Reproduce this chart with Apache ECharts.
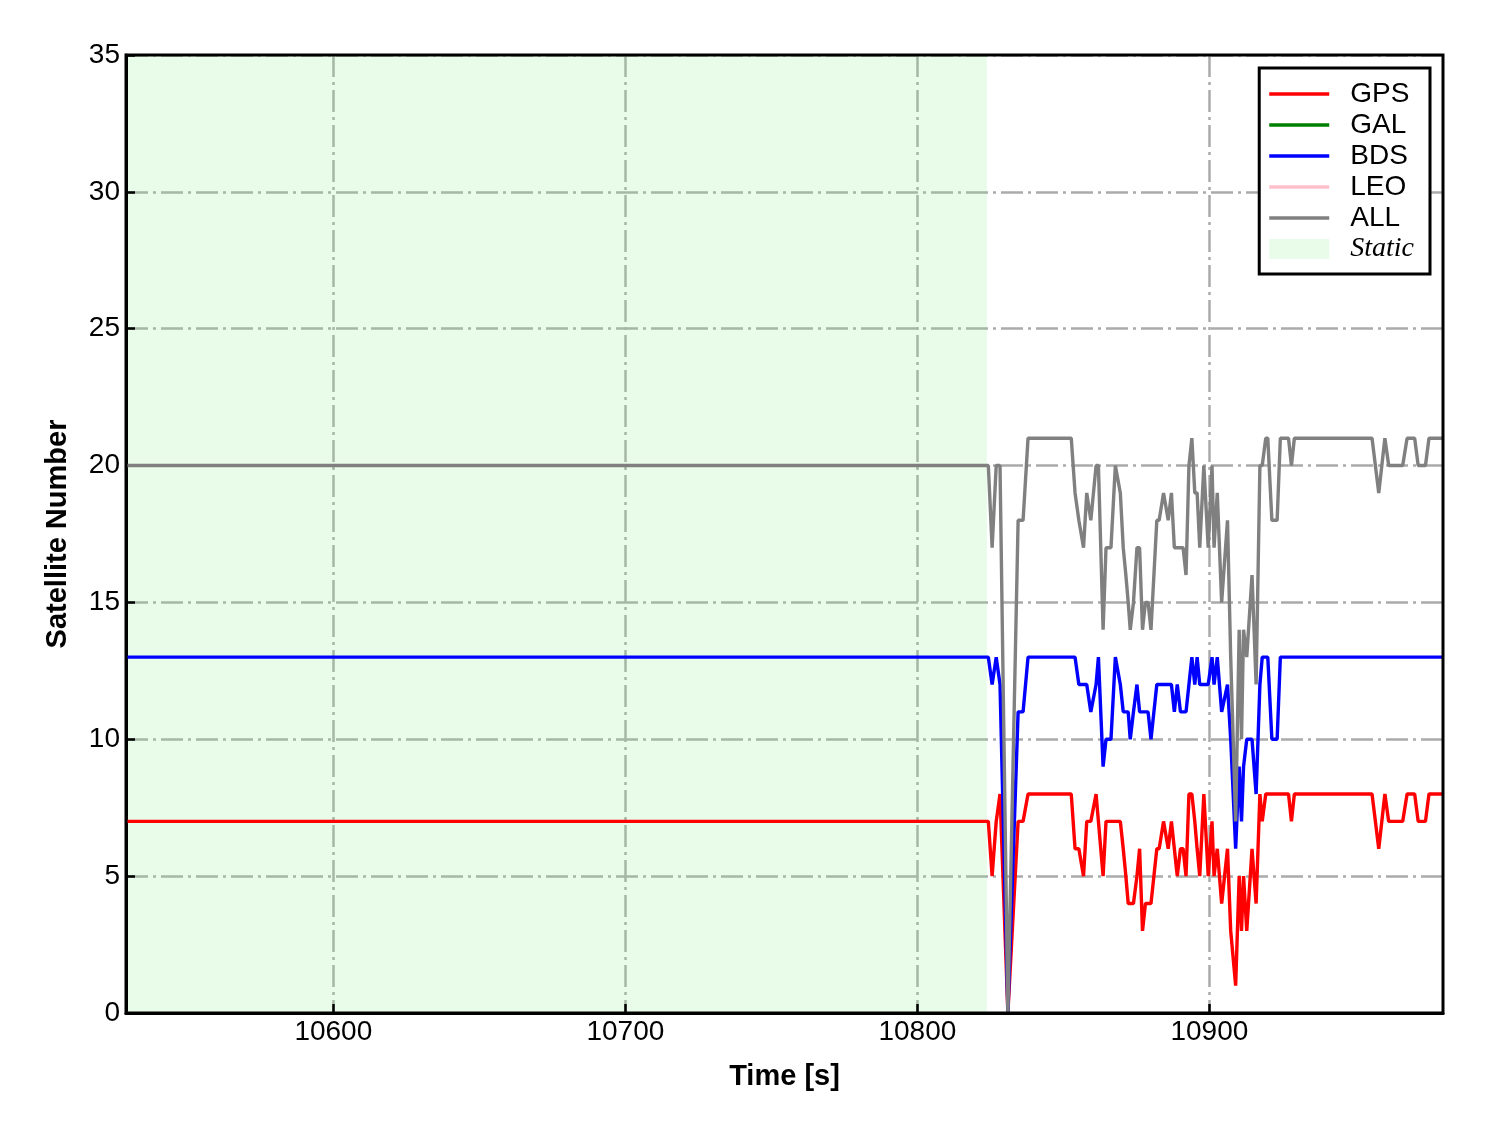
<!DOCTYPE html>
<html>
<head>
<meta charset="utf-8">
<script src="https://cdn.jsdelivr.net/npm/echarts@6/dist/echarts.min.js"></script>
<style>
html,body{margin:0;padding:0;background:#fff;}
#chart{width:1488px;height:1133px;}
</style>
</head>
<body>
<div id="chart"></div>
<script>
// ---- data ----
const epochTime = [
  10529, 10824.3, 10825.6, 10827.0, 10828.3, 10831.0, 10834.5, 10836.2, 10837.9, 10852.7,
  10854.0, 10855.3, 10856.9, 10858.0, 10859.4, 10861.2, 10862.0, 10863.6, 10864.6, 10866.3,
  10867.8, 10868.3, 10869.5, 10870.5, 10871.4, 10872.2, 10872.9, 10874.0, 10875.2, 10876.1,
  10877.1, 10878.1, 10879.0, 10880.0, 10881.0, 10882.0, 10882.8, 10884.3, 10884.9, 10885.9,
  10887.0, 10888.0, 10889.0, 10890.1, 10891.0, 10892.0, 10893.0, 10894.0, 10895.0, 10895.8,
  10896.7, 10898.1, 10899.6, 10900.9, 10901.6, 10902.7, 10904.2, 10906.2, 10907.3, 10909.0,
  10910.2, 10911.0, 10911.7, 10912.8, 10914.6, 10916.0, 10917.3, 10918.1, 10919.3, 10920.0,
  10921.4, 10923.2, 10924.3, 10927.1, 10928.1, 10929.1, 10955.7, 10958.0, 10960.1, 10961.4,
  10966.2, 10967.7, 10970.3, 10971.5, 10974.0, 10975.2, 10980.0
];
const gpsCount = [
  7, 7, 5, 7, 8, 0, 7, 7, 8, 8,
  6, 6, 5, 7, 7, 8, 7, 5, 7, 7,
  7, 7, 7, 6, 5, 4, 4, 4, 5, 6,
  3, 4, 4, 4, 5, 6, 6, 7, 7, 6,
  7, 6, 5, 6, 6, 5, 8, 8, 7, 6,
  5, 8, 5, 7, 5, 6, 4, 6, 3, 1,
  5, 3, 5, 3, 6, 4, 8, 7, 8, 8,
  8, 8, 8, 8, 7, 8, 8, 6, 8, 7,
  7, 8, 8, 7, 7, 8, 8
];
const galCount = [];
const bdsCount = [
  13, 13, 12, 13, 12, 0, 11, 11, 13, 13,
  13, 12, 12, 12, 11, 12, 13, 9, 10, 10,
  13, 13, 12, 11, 11, 11, 10, 11, 12, 11,
  11, 11, 11, 10, 11, 12, 12, 12, 12, 12,
  12, 11, 12, 11, 11, 11, 12, 13, 12, 13,
  12, 12, 12, 13, 12, 13, 11, 12, 10, 6,
  9, 7, 9, 10, 10, 8, 12, 13, 13, 13,
  10, 10, 13, 13, 13, 13, 13, 13, 13, 13,
  13, 13, 13, 13, 13, 13, 13
];
const leoCount = [];
const allCount = [
  20, 20, 17, 20, 20, 0, 18, 18, 21, 21,
  19, 18, 17, 19, 18, 20, 20, 14, 17, 17,
  20, 20, 19, 17, 16, 15, 14, 15, 17, 17,
  14, 15, 15, 14, 16, 18, 18, 19, 19, 18,
  19, 17, 17, 17, 17, 16, 20, 21, 19, 19,
  17, 20, 17, 20, 17, 19, 15, 18, 13, 7,
  14, 10, 14, 13, 16, 12, 20, 20, 21, 21,
  18, 18, 21, 21, 20, 21, 21, 19, 21, 20,
  20, 21, 21, 20, 20, 21, 21
];
const staticSpan = [10529, 10823.8];
const xRange = [10529, 10980];
const xTickValues = [10600, 10700, 10800, 10900];
const yRange = [0, 35];
const yTickStep = 5;

// ---- chart ----
const FONT = 'Liberation Sans';
const STATIC_FILL = 'rgba(144,238,144,0.2)';
const LINE_ICON = 'path://M0,0H60V3.5H0Z';

function pairs(times, vals) {
  return vals.map((v, i) => [times[i], v]);
}
function lineSeries(name, color, vals) {
  return {
    name: name, type: 'line', data: pairs(epochTime, vals),
    color: color, symbol: 'none', showSymbol: false,
    lineStyle: {color: color, width: 3.4}, z: 3, animation: false
  };
}
const gridLine = {show: true, lineStyle: {color: '#aaaaaa', width: 2.5, type: [22, 5, 3, 5]}};

const option = {
  backgroundColor: '#ffffff',
  animation: false,
  grid: {left: 126, right: 45, top: 55, bottom: 120, show: true,
         borderColor: '#000', borderWidth: 3, backgroundColor: 'transparent', z: 4},
  xAxis: {
    type: 'value', min: xRange[0], max: xRange[1], z: 1,
    name: 'Time [s]', nameLocation: 'middle', nameGap: 49,
    nameTextStyle: {fontFamily: FONT, fontWeight: 'bold', fontSize: 29, color: '#000'},
    axisLine: {show: true, onZero: false, lineStyle: {color: '#000', width: 3}},
    axisTick: {show: true, inside: true, length: 9, customValues: xTickValues,
               lineStyle: {color: '#000', width: 2.5}},
    axisLabel: {customValues: xTickValues, formatter: v => String(v),
                fontFamily: FONT, fontSize: 28, color: '#000', margin: 5},
    splitLine: gridLine
  },
  yAxis: {
    type: 'value', min: yRange[0], max: yRange[1], interval: yTickStep, z: 1,
    name: 'Satellite Number', nameLocation: 'middle', nameGap: 54,
    nameTextStyle: {fontFamily: FONT, fontWeight: 'bold', fontSize: 29, color: '#000'},
    axisLine: {show: true, onZero: false, lineStyle: {color: '#000', width: 3}},
    axisTick: {show: true, inside: true, length: 9, lineStyle: {color: '#000', width: 2.5}},
    axisLabel: {fontFamily: FONT, fontSize: 28, color: '#000', margin: 6},
    splitLine: gridLine
  },
  legend: {
    orient: 'vertical', right: 58, top: 68,
    backgroundColor: '#fff', borderColor: '#000', borderWidth: 3, borderRadius: 0,
    padding: [12, 16, 11, 10], itemWidth: 60, itemHeight: 20, itemGap: 3,
    selectedMode: false, z: 10,
    textStyle: {fontFamily: FONT, fontSize: 28, color: '#000', lineHeight: 28, padding: [0, 0, 0, 16]},
    data: [
      {name: 'GPS', icon: LINE_ICON},
      {name: 'GAL', icon: LINE_ICON},
      {name: 'BDS', icon: LINE_ICON},
      {name: 'LEO', icon: LINE_ICON},
      {name: 'ALL', icon: LINE_ICON},
      {name: 'Static', icon: 'rect', itemStyle: {color: STATIC_FILL},
       textStyle: {fontFamily: 'Liberation Serif', fontStyle: 'italic', fontSize: 28}}
    ]
  },
  series: [
    {
      name: 'Static', type: 'line', data: [], color: STATIC_FILL, z: 0,
      symbol: 'none', animation: false,
      markArea: {silent: true, itemStyle: {color: STATIC_FILL, borderWidth: 0},
                 data: [[{xAxis: staticSpan[0]}, {xAxis: staticSpan[1]}]]}
    },
    lineSeries('GPS', '#ff0000', gpsCount),
    lineSeries('GAL', '#008000', galCount),
    lineSeries('BDS', '#0000ff', bdsCount),
    lineSeries('LEO', '#ffc0cb', leoCount),
    lineSeries('ALL', '#808080', allCount)
  ]
};
const chart = echarts.init(document.getElementById('chart'), null, {renderer: 'canvas'});
chart.setOption(option);
</script>
</body>
</html>
